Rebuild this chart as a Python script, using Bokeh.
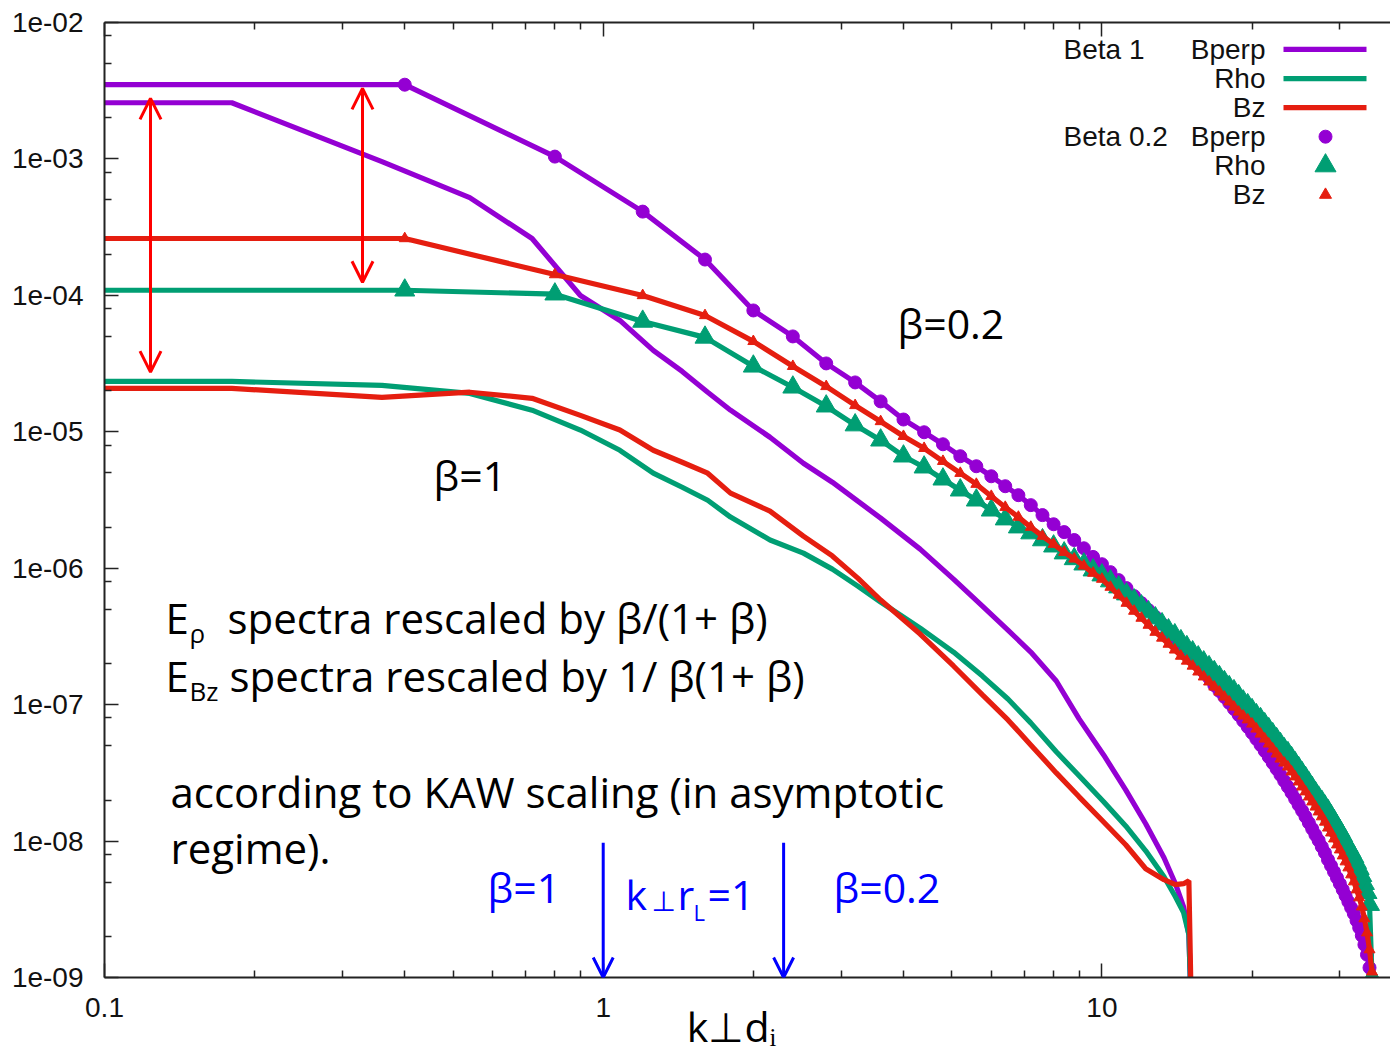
import math

from bokeh.embed import file_html
from bokeh.models import (Arrow, ColumnDataSource, CustomJSTickFormatter,
                          FixedTicker, Label, LogAxis, OpenHead, Range1d)
from bokeh.plotting import figure
from bokeh.resources import INLINE

# ---------------------------------------------------------------------------
# Spectra vs k_perp d_i  (beta = 1 run: lines, beta = 0.2 run: lines + points)
# The first entry of every series is the lowest mode, sitting left of the axis.
# ---------------------------------------------------------------------------
k_beta1 = [0.05, 0.18, 0.36, 0.54, 0.72, 0.9, 1.08, 1.26, 1.44, 1.62,
           1.8, 2.16, 2.52, 2.88, 3.24, 3.6, 4.32, 5.04, 5.76, 6.48,
           7.2, 8.1, 9.0, 10.08, 11.16, 12.24, 13.32, 14.04, 14.58, 14.94,
           15.12]

bperp_beta1 = [2.58e-3, 2.58e-3, 9.55e-4, 5.21e-4, 2.61e-4, 9.98e-5, 6.55e-5, 3.95e-5, 2.77e-5, 1.95e-5,
               1.44e-5, 9.12e-6, 5.88e-6, 4.27e-6, 3.10e-6, 2.33e-6, 1.38e-6, 8.32e-7, 5.28e-7, 3.52e-7,
               2.43e-7, 1.49e-7, 7.86e-8, 4.28e-8, 2.37e-8, 1.34e-8, 7.54e-9, 4.87e-9, 3.30e-9, 2.06e-9,
               5.0e-10]

rho_beta1 = [2.34e-5, 2.34e-5, 2.19e-5, 1.91e-5, 1.44e-5, 1.03e-5, 7.32e-6, 4.97e-6, 3.92e-6, 3.15e-6,
             2.37e-6, 1.61e-6, 1.29e-6, 9.85e-7, 7.40e-7, 5.65e-7, 3.64e-7, 2.43e-7, 1.62e-7, 1.10e-7,
             7.35e-8, 4.51e-8, 3.01e-8, 1.94e-8, 1.29e-8, 8.49e-9, 5.48e-9, 3.91e-9, 2.99e-9, 2.06e-9,
             5.0e-10]

bz_beta1 = [2.08e-5, 2.08e-5, 1.79e-5, 1.95e-5, 1.76e-5, 1.32e-5, 1.03e-5, 7.32e-6, 5.98e-6, 4.97e-6,
            3.55e-6, 2.62e-6, 1.72e-6, 1.23e-6, 8.46e-7, 5.84e-7, 3.29e-7, 1.92e-7, 1.18e-7, 7.73e-8,
            5.07e-8, 3.16e-8, 2.11e-8, 1.38e-8, 9.40e-9, 6.27e-9, 5.21e-9, 4.79e-9, 4.87e-9, 5.12e-9,
            5.0e-10]

k_beta02 = [0.05,
            0.4, 0.8, 1.2, 1.6, 2.0, 2.4, 2.8, 3.2, 3.6, 4.0,
            4.4, 4.8, 5.2, 5.6, 6.0, 6.4, 6.8, 7.2, 7.6, 8.0,
            8.4, 8.8, 9.2, 9.6, 10.0, 10.4, 10.8, 11.2, 11.6, 12.0,
            12.4, 12.8, 13.2, 13.6, 14.0, 14.4, 14.8, 15.2, 15.6, 16.0,
            16.4, 16.8, 17.2, 17.6, 18.0, 18.4, 18.8, 19.2, 19.6, 20.0,
            20.4, 20.8, 21.2, 21.6, 22.0, 22.4, 22.8, 23.2, 23.6, 24.0,
            24.4, 24.8, 25.2, 25.6, 26.0, 26.4, 26.8, 27.2, 27.6, 28.0,
            28.4, 28.8, 29.2, 29.6, 30.0, 30.4, 30.8, 31.2, 31.6, 32.0,
            32.4, 32.8, 33.2, 33.6, 34.0, 34.4, 34.8]

bperp_beta02 = [3.50e-3,
                3.50e-3, 1.04e-3, 4.11e-4, 1.83e-4, 7.75e-5, 5.00e-5, 3.17e-5, 2.30e-5, 1.67e-5, 1.23e-5,
                9.92e-6, 8.10e-6, 6.62e-6, 5.59e-6, 4.72e-6, 3.99e-6, 3.43e-6, 2.90e-6, 2.45e-6, 2.10e-6,
                1.84e-6, 1.61e-6, 1.40e-6, 1.21e-6, 1.07e-6, 9.36e-7, 8.18e-7, 7.15e-7, 6.25e-7, 5.55e-7,
                4.93e-7, 4.39e-7, 3.90e-7, 3.46e-7, 3.08e-7, 2.74e-7, 2.43e-7, 2.16e-7, 1.95e-7, 1.74e-7,
                1.57e-7, 1.39e-7, 1.26e-7, 1.14e-7, 1.03e-7, 9.30e-8, 8.41e-8, 7.60e-8, 6.87e-8, 6.21e-8,
                5.61e-8, 5.07e-8, 4.58e-8, 4.14e-8, 3.74e-8, 3.38e-8, 3.06e-8, 2.76e-8, 2.50e-8, 2.26e-8,
                2.04e-8, 1.84e-8, 1.67e-8, 1.51e-8, 1.36e-8, 1.23e-8, 1.11e-8, 1.01e-8, 9.08e-9, 8.21e-9,
                7.30e-9, 6.60e-9, 5.96e-9, 5.39e-9, 4.87e-9, 4.40e-9, 3.98e-9, 3.59e-9, 3.25e-9, 2.94e-9,
                2.61e-9, 2.32e-9, 2.03e-9, 1.74e-9, 1.47e-9, 1.18e-9, 5.0e-10]

rho_beta02 = [1.09e-4,
              1.09e-4, 1.02e-4, 6.44e-5, 4.92e-5, 3.02e-5, 2.12e-5, 1.54e-5, 1.12e-5, 8.67e-6, 6.62e-6,
              5.50e-6, 4.49e-6, 3.73e-6, 3.15e-6, 2.66e-6, 2.29e-6, 2.00e-6, 1.81e-6, 1.61e-6, 1.45e-6,
              1.29e-6, 1.17e-6, 1.07e-6, 9.68e-7, 8.90e-7, 8.05e-7, 7.27e-7, 6.46e-7, 5.84e-7, 5.28e-7,
              4.77e-7, 4.31e-7, 3.90e-7, 3.52e-7, 3.24e-7, 2.93e-7, 2.65e-7, 2.43e-7, 2.23e-7, 2.05e-7,
              1.89e-7, 1.74e-7, 1.60e-7, 1.47e-7, 1.35e-7, 1.26e-7, 1.16e-7, 1.06e-7, 9.95e-8, 9.15e-8,
              8.41e-8, 7.86e-8, 7.22e-8, 6.64e-8, 6.10e-8, 5.61e-8, 5.16e-8, 4.74e-8, 4.43e-8, 4.07e-8,
              3.74e-8, 3.44e-8, 3.16e-8, 2.91e-8, 2.67e-8, 2.46e-8, 2.26e-8, 2.09e-8, 1.95e-8, 1.80e-8,
              1.67e-8, 1.53e-8, 1.41e-8, 1.29e-8, 1.19e-8, 1.09e-8, 9.88e-9, 9.08e-9, 8.35e-9, 7.67e-9,
              6.94e-9, 6.27e-9, 5.57e-9, 4.87e-9, 4.18e-9, 3.42e-9, 1.00e-9]

bz_beta02 = [2.61e-4,
             2.61e-4, 1.42e-4, 9.98e-5, 7.12e-5, 4.60e-5, 3.02e-5, 2.15e-5, 1.56e-5, 1.19e-5, 9.27e-6,
             7.57e-6, 6.08e-6, 4.97e-6, 4.13e-6, 3.37e-6, 2.80e-6, 2.37e-6, 2.00e-6, 1.72e-6, 1.50e-6,
             1.31e-6, 1.17e-6, 1.04e-6, 9.21e-7, 8.32e-7, 7.27e-7, 6.36e-7, 5.55e-7, 4.85e-7, 4.31e-7,
             3.83e-7, 3.40e-7, 3.08e-7, 2.78e-7, 2.52e-7, 2.27e-7, 2.09e-7, 1.92e-7, 1.74e-7, 1.60e-7,
             1.47e-7, 1.35e-7, 1.24e-7, 1.14e-7, 1.05e-7, 9.62e-8, 8.84e-8, 8.27e-8, 7.75e-8, 7.22e-8,
             6.64e-8, 6.10e-8, 5.61e-8, 5.16e-8, 4.74e-8, 4.36e-8, 4.00e-8, 3.74e-8, 3.50e-8, 3.22e-8,
             2.96e-8, 2.72e-8, 2.50e-8, 2.30e-8, 2.11e-8, 1.94e-8, 1.78e-8, 1.64e-8, 1.51e-8, 1.38e-8,
             1.25e-8, 1.15e-8, 1.04e-8, 9.40e-9, 8.64e-9, 7.81e-9, 7.06e-9, 6.38e-9, 5.67e-9, 5.04e-9,
             4.40e-9, 3.85e-9, 3.30e-9, 2.70e-9, 2.13e-9, 1.60e-9, 1.10e-9]

# k_perp r_L = 1 for each run, in units of d_i
k_rl_beta1 = 1.0
k_rl_beta02 = 2.3

# axis ticks
x_major = [0.1, 1, 10]
x_minor = [m * d for d in (0.1, 1, 10) for m in range(2, 10) if m * d < 38]
y_major = [10.0 ** e for e in range(-9, -1)]
y_minor = [m * 10.0 ** e for e in range(-9, -2) for m in (2, 5, 8)]

# ---------------------------------------------------------------------------
PURPLE = "#9400D3"
GREEN = "#009E73"
RED = "#E51E10"
ARROW_RED = "#FF0000"
BLUE = "#0000FF"
AXIS = "#222222"
TEXT_FONT = "Open Sans"
TICK_FONT = "Liberation Sans"
LW = 5.2

X_LO, X_HI = 0.1, 37.9
Y_LO, Y_HI = 1e-9, 1e-2
W, H = 1390, 1056
F_L, F_R, F_T, F_B = 104, W, 22, 978


def sx(px):
    """canvas pixel column -> k value"""
    lo, hi = math.log10(X_LO), math.log10(X_HI)
    return 10 ** (lo + (px - F_L) / (F_R - F_L) * (hi - lo))


def sy(py):
    """canvas pixel row -> spectrum value"""
    lo, hi = math.log10(Y_LO), math.log10(Y_HI)
    return 10 ** (hi - (py - F_T) / (F_B - F_T) * (hi - lo))


p = figure(width=W, height=H, x_axis_type="log", y_axis_type="log",
           x_range=Range1d(X_LO, X_HI), y_range=Range1d(Y_LO, Y_HI),
           output_backend="svg", toolbar_location=None,
           min_border_left=F_L, min_border_right=0,
           min_border_top=F_T, min_border_bottom=H - F_B)
p.grid.visible = False
p.outline_line_color = None
p.background_fill_color = "white"
p.border_fill_color = "white"

x_fmt = CustomJSTickFormatter(code="return tick < 1 ? tick.toFixed(1) : tick.toFixed(0);")
y_fmt = CustomJSTickFormatter(code="""
    const e = Math.round(Math.log10(tick));
    const a = Math.abs(e);
    return '1e' + (e < 0 ? '-' : '+') + (a < 10 ? '0' + a : '' + a);
""")
blank_fmt = CustomJSTickFormatter(code="return '';")


def style_axis(ax, ticker, fmt, standoff):
    ax.ticker = ticker
    ax.formatter = fmt
    ax.axis_line_color = AXIS
    ax.axis_line_width = 2
    ax.major_tick_in = 14
    ax.major_tick_out = 0
    ax.minor_tick_in = 7
    ax.minor_tick_out = 0
    ax.major_tick_line_color = AXIS
    ax.minor_tick_line_color = AXIS
    ax.major_tick_line_width = 1.5
    ax.minor_tick_line_width = 1.5
    ax.major_label_text_font = TICK_FONT
    ax.major_label_text_font_size = "28px"
    ax.major_label_text_color = "#111111"
    ax.major_label_standoff = standoff


xax = p.xaxis[0]
style_axis(xax, FixedTicker(ticks=x_major, minor_ticks=x_minor), x_fmt, 20)
style_axis(p.yaxis[0], FixedTicker(ticks=y_major, minor_ticks=y_minor), y_fmt, 21)
top_axis = LogAxis()
p.add_layout(top_axis, "above")
style_axis(top_axis, FixedTicker(ticks=x_major, minor_ticks=x_minor), blank_fmt, 0)
top_axis.major_label_text_font_size = "1px"

xax.axis_label = "k\u22a5d\u1d62\u00a0\u00a0\u00a0"
xax.axis_label_text_font = TEXT_FONT
xax.axis_label_text_font_style = "normal"
xax.axis_label_text_font_size = "41px"
xax.axis_label_text_color = "black"
xax.axis_label_standoff = -22

# ---- beta = 1 : plain lines ----
for vals, col in ((bperp_beta1, PURPLE), (rho_beta1, GREEN), (bz_beta1, RED)):
    p.line(k_beta1, vals, line_color=col, line_width=LW)

# ---- beta = 0.2 : lines with points ----
series02 = ((bperp_beta02, PURPLE, "circle", 13),
            (rho_beta02, GREEN, "triangle", 20),
            (bz_beta02, RED, "triangle", 11))
for vals, col, mk, sz in series02:
    src = ColumnDataSource(dict(k=k_beta02, e=vals))
    p.line("k", "e", source=src, line_color=col, line_width=LW)
    p.scatter("k", "e", source=src, marker=mk, size=sz, fill_color=col, line_color=col)


# ---- annotations ----
def note(px, base, s, size, color="black", align="left", font=TEXT_FONT):
    # anchor is given by the text baseline on the canvas
    p.add_layout(Label(x=sx(px), y=sy(base - 0.37 * size), text=s, text_font=font,
                       text_font_size=f"{size}px", text_color=color, text_align=align,
                       text_baseline="alphabetic"))


# key (gnuplot style: text on the left, sample on the right)
key_rows = [("Beta 1", "Bperp", PURPLE, None), ("", "Rho", GREEN, None), ("", "Bz", RED, None),
            ("Beta 0.2", "Bperp", PURPLE, ("circle", 13)), ("", "Rho", GREEN, ("triangle", 21)),
            ("", "Bz", RED, ("triangle", 12))]
for i, (group, name, col, mark) in enumerate(key_rows):
    base = 59.5 + i * 29.1
    mid = base - 10.5
    if group:
        note(1063, base, group, 28, "#111111", font=TICK_FONT)
    note(1265, base, name, 28, "#111111", align="right", font=TICK_FONT)
    if mark is None:
        p.line([sx(1283), sx(1366)], [sy(mid), sy(mid)], line_color=col, line_width=LW)
    else:
        p.scatter([sx(1325)], [sy(mid)], marker=mark[0], size=mark[1], fill_color=col, line_color=col)

note(897, 338, "β=0.2", 41)
note(433, 490, "β=1", 41)

note(165, 633, "E", 42)
note(189, 643, "ρ", 26)
note(227, 633, "spectra rescaled by β/(1+ β)", 42)
note(165, 691, "E", 42)
note(189, 701, "Bz", 26)
note(229, 691, "spectra rescaled by 1/ β(1+ β)", 42)
note(170, 807, "according to KAW scaling (in asymptotic", 42)
note(170, 863, "regime).", 42)

note(487, 903, "β=1", 41, BLUE)
note(625, 910, "k", 41, BLUE)
note(651, 912, "\u22a5", 28, BLUE, font="DejaVu Sans")
note(677, 910, "r", 41, BLUE)
note(693, 921, "L", 22, BLUE)
note(707, 910, "=1", 41, BLUE)
note(833, 903, "β=0.2", 41, BLUE)

# red double arrows: rescaling between the beta runs
for px, top, bot in ((150, 98, 372), (362, 88, 282)):
    p.add_layout(Arrow(x_start=sx(px), y_start=sy(bot), x_end=sx(px), y_end=sy(top),
                       line_color=ARROW_RED, line_width=3,
                       start=OpenHead(size=21, line_color=ARROW_RED, line_width=3),
                       end=OpenHead(size=21, line_color=ARROW_RED, line_width=3)))

# blue arrows: k_perp r_L = 1 for each beta
for kx in (k_rl_beta1, k_rl_beta02):
    p.add_layout(Arrow(x_start=kx, y_start=sy(843), x_end=kx, y_end=Y_LO,
                       line_color=BLUE, line_width=3,
                       end=OpenHead(size=20, line_color=BLUE, line_width=3)))

open("out.html", "w").write(file_html(p, INLINE))
